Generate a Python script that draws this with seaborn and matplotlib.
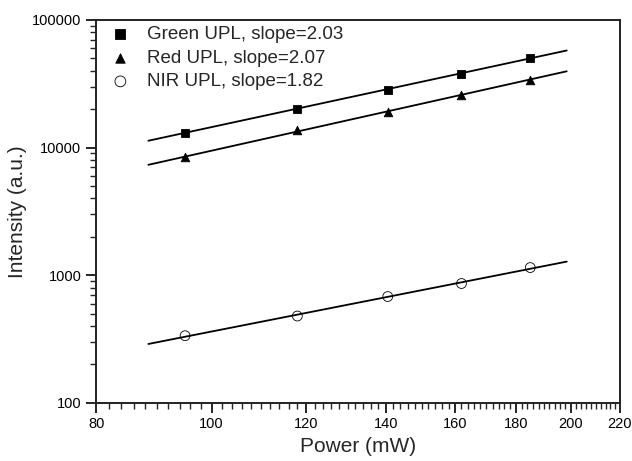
import numpy as np
import pandas as pd
import matplotlib
matplotlib.use('Agg')
import matplotlib.pyplot as plt
import seaborn as sns
from matplotlib.ticker import FixedLocator, NullFormatter, FuncFormatter

# data
power = [95, 118, 140.5, 162, 185]
green = [13100, 20200, 28400, 37900, 50500]
red = [8400, 13600, 19100, 25900, 34000]
nir = [336, 479, 681, 861, 1148]
labels = ['Green UPL, slope=2.03', 'Red UPL, slope=2.07', 'NIR UPL, slope=1.82']
fit_range = [88.5, 198.5]

sns.set_style('ticks')
plt.rcParams['font.family'] = ['Liberation Sans', 'DejaVu Sans']

fig = plt.figure(figsize=(6.32, 4.61), dpi=100)
ax = fig.add_axes([0.152, 0.126, 0.829, 0.831])

series = [(green, 's', 'black'), (red, '^', 'black'), (nir, 'o', 'none')]
for (vals, mk, fc), lab in zip(series, labels):
    df = pd.DataFrame({'power': power, 'intensity': vals})
    # power-law fit (straight line in log-log)
    k, b = np.polyfit(np.log10(df['power']), np.log10(df['intensity']), 1)
    xf = np.array(fit_range)
    fit = pd.DataFrame({'power': xf, 'intensity': 10 ** (b + k * np.log10(xf))})
    sns.lineplot(data=fit, x='power', y='intensity', ax=ax, color='black',
                 linewidth=1.3, legend=False)
    sns.scatterplot(data=df, x='power', y='intensity', ax=ax, marker=mk,
                    s=38 if mk != 'o' else 50, facecolor=fc, edgecolor='black',
                    linewidth=0.6, label=lab, zorder=3)

ax.set_xscale('log')
ax.set_yscale('log')
ax.set_xlim(80, 220)
ax.set_ylim(100, 100000)

xmaj = [80, 100, 120, 140, 160, 180, 200, 220]
ax.xaxis.set_major_locator(FixedLocator(xmaj))
ax.xaxis.set_minor_locator(FixedLocator([v for v in range(82, 220, 2) if v not in xmaj]))
ax.xaxis.set_major_formatter(FuncFormatter(lambda v, p: f'{v:g}'))
ax.xaxis.set_minor_formatter(NullFormatter())
ax.yaxis.set_major_formatter(FuncFormatter(lambda v, p: f'{v:g}'))

ax.tick_params(axis='both', which='major', direction='out', length=7, width=1.2,
               labelsize=10.5, colors='black')
ax.tick_params(axis='both', which='minor', direction='out', length=4, width=1.0)
for s in ax.spines.values():
    s.set_linewidth(1.4)
    s.set_color('#222222')

ax.set_xlabel('Power (mW)', fontsize=15)
ax.set_ylabel('Intensity (a.u.)', fontsize=15)

ax.legend(loc='upper left', frameon=False, fontsize=13.5, handletextpad=0.7,
          borderaxespad=0.0, labelspacing=0.34, handlelength=1.4,
          markerscale=1.1, bbox_to_anchor=(0.007, 1.003))

plt.savefig('out.png', dpi=100)
